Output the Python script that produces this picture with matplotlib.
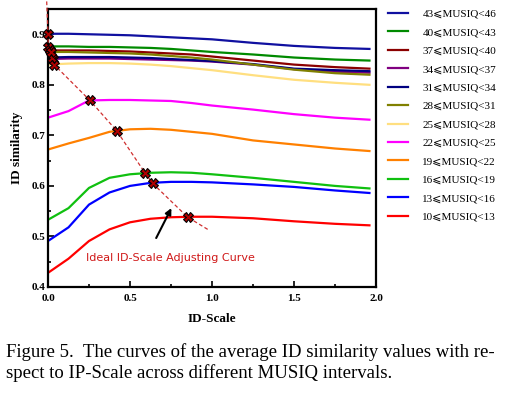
import numpy as np
import matplotlib
matplotlib.use("Agg")
import matplotlib.pyplot as plt
from matplotlib.font_manager import FontProperties
from matplotlib.ticker import MultipleLocator

# ID-Scale sample points (shared by all curves)
scale = [0, 0.125, 0.25, 0.375, 0.5, 0.625, 0.75, 0.875, 1.0, 1.25, 1.5, 1.75, 1.96]

labels = ['43⩽MUSIQ<46', '40⩽MUSIQ<43', '37⩽MUSIQ<40', '34⩽MUSIQ<37',
          '31⩽MUSIQ<34', '28⩽MUSIQ<31', '25⩽MUSIQ<28', '22⩽MUSIQ<25',
          '19⩽MUSIQ<22', '16⩽MUSIQ<19', '13⩽MUSIQ<16', '10⩽MUSIQ<13']
colors = ['#1010a0', '#008a00', '#8b0000', '#800080', '#000080', '#808000',
          '#ffdf80', '#ff00ff', '#ff8000', '#10c010', '#0000ff', '#ff0000']

sim_43 = [0.901, 0.901, 0.900, 0.899, 0.898, 0.896, 0.894, 0.892, 0.890, 0.883, 0.877, 0.873, 0.871]
sim_40 = [0.876, 0.876, 0.875, 0.875, 0.874, 0.873, 0.871, 0.868, 0.865, 0.860, 0.854, 0.850, 0.848]
sim_37 = [0.868, 0.868, 0.868, 0.867, 0.866, 0.864, 0.862, 0.860, 0.856, 0.848, 0.840, 0.835, 0.832]
sim_34 = [0.851, 0.852, 0.852, 0.852, 0.851, 0.850, 0.849, 0.848, 0.846, 0.840, 0.831, 0.826, 0.824]
sim_31 = [0.854, 0.855, 0.855, 0.855, 0.854, 0.853, 0.851, 0.849, 0.847, 0.841, 0.832, 0.829, 0.827]
sim_28 = [0.865, 0.865, 0.864, 0.863, 0.862, 0.860, 0.857, 0.854, 0.850, 0.840, 0.830, 0.823, 0.820]
sim_25 = [0.840, 0.842, 0.843, 0.843, 0.842, 0.840, 0.837, 0.833, 0.829, 0.819, 0.810, 0.804, 0.800]
sim_22 = [0.735, 0.748, 0.769, 0.770, 0.770, 0.769, 0.768, 0.764, 0.759, 0.751, 0.742, 0.735, 0.731]
sim_19 = [0.672, 0.684, 0.695, 0.707, 0.712, 0.713, 0.711, 0.707, 0.703, 0.690, 0.682, 0.674, 0.669]
sim_16 = [0.533, 0.556, 0.596, 0.616, 0.623, 0.626, 0.627, 0.626, 0.623, 0.616, 0.608, 0.600, 0.595]
sim_13 = [0.491, 0.518, 0.563, 0.587, 0.600, 0.606, 0.608, 0.608, 0.607, 0.603, 0.598, 0.591, 0.586]
sim_10 = [0.428, 0.456, 0.491, 0.514, 0.528, 0.535, 0.538, 0.539, 0.539, 0.536, 0.530, 0.525, 0.522]
curves = [sim_43, sim_40, sim_37, sim_34, sim_31, sim_28,
          sim_25, sim_22, sim_19, sim_16, sim_13, sim_10]

# best ID-Scale per interval (x marks)
best_x = [0.0, 0.002, 0.012, 0.030, 0.026, 0.018, 0.037, 0.256, 0.419, 0.591, 0.638, 0.852]
best_y = [0.901, 0.875, 0.868, 0.851, 0.854, 0.865, 0.840, 0.769, 0.709, 0.626, 0.605, 0.538]

# ideal adjusting curve (dashed)
ideal_x = [-0.008, 0.0, 0.002, 0.012, 0.018, 0.026, 0.030, 0.037, 0.256, 0.419, 0.591, 0.638, 0.852, 0.984]
ideal_y = [0.965, 0.901, 0.875, 0.868, 0.865, 0.854, 0.851, 0.840, 0.769, 0.709, 0.626, 0.605, 0.538, 0.512]

serif = ['Liberation Serif', 'DejaVu Serif']

fig = plt.figure(figsize=(5.08, 3.96), dpi=100)
ax = fig.add_axes([48/508, 1-287/396, 328/508, 278/396])

for y, c, lab in zip(curves, colors, labels):
    ax.plot(scale, y, color=c, lw=1.6, label=lab)

ax.plot(ideal_x, ideal_y, color='#d03030', lw=0.9, ls=(0, (3, 2)), clip_on=False, zorder=4)
ax.plot(best_x, best_y, ls='none', marker='X', ms=7, mfc='#b00000', mec='black',
        mew=0.8, clip_on=False, zorder=5)

ax.annotate('', xy=(0.76, 0.561), xytext=(0.652, 0.492),
            arrowprops=dict(arrowstyle='-|>', color='black', lw=1.5, mutation_scale=9))
ax.text(0.745, 0.458, 'Ideal ID-Scale Adjusting Curve', color='#d01818',
        fontsize=8, ha='center', va='center', family='DejaVu Sans')

ax.set_xlim(0, 2.0)
ax.set_ylim(0.4, 0.95)
ax.xaxis.set_major_locator(MultipleLocator(0.5))
ax.xaxis.set_minor_locator(MultipleLocator(0.25))
ax.yaxis.set_major_locator(MultipleLocator(0.1))
ax.yaxis.set_minor_locator(MultipleLocator(0.05))
ax.tick_params(which='both', direction='in', width=1.2)
ax.tick_params(which='major', length=4)
ax.tick_params(which='minor', length=2.5)
ax.tick_params(axis='x', pad=5)
ax.tick_params(axis='y', pad=2)
for t in ax.get_xticklabels() + ax.get_yticklabels():
    t.set_family(serif)
    t.set_fontweight('bold')
    t.set_fontsize(8)
for s in ax.spines.values():
    s.set_linewidth(1.6)

ax.set_xlabel('ID-Scale', family=serif, fontweight='bold', fontsize=9.5)
ax.set_ylabel('ID similarity', family=serif, fontweight='bold', fontsize=9.5)
ax.xaxis.set_label_coords(0.5, -0.095)
ax.yaxis.set_label_coords(-0.075, 0.5)

leg_font = FontProperties(family=['Liberation Serif', 'DejaVu Sans'], size=8)
ax.legend(loc='upper left', bbox_to_anchor=(388/508, 1-9/396), bbox_transform=fig.transFigure,
          frameon=False, borderpad=0, borderaxespad=0, prop=leg_font,
          handlelength=1.8, handletextpad=1.3, labelspacing=0.78)

caption = ('Figure 5.  The curves of the average ID similarity values with re-\n'
           'spect to IP-Scale across different MUSIQ intervals.')
fig.text(6/508, 1-343/396, caption, family=serif, fontsize=13.5, ha='left', va='top',
         linespacing=1.2)

fig.savefig('out.png', dpi=100)
